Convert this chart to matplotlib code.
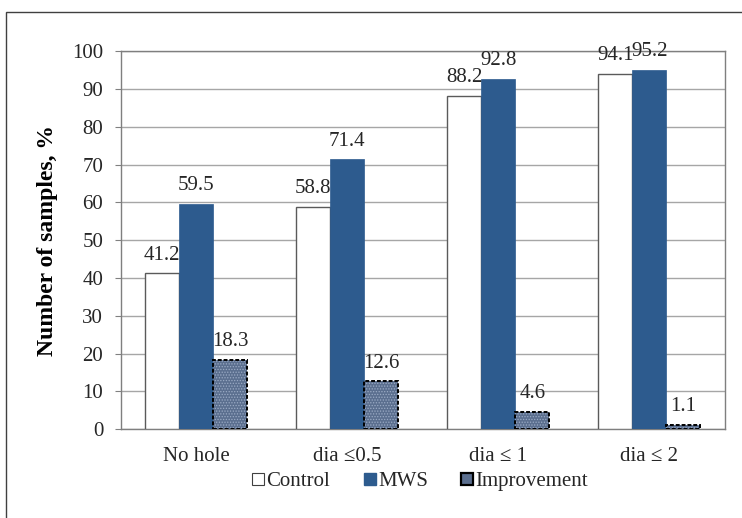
import matplotlib

matplotlib.use("Agg")
import matplotlib.pyplot as plt
from matplotlib.lines import Line2D
from matplotlib.patches import Rectangle
import numpy as np

categories = ["No hole", "dia \u22640.5", "dia \u2264 1", "dia \u2264 2"]
control = [41.2, 58.8, 88.2, 94.1]
mws = [59.5, 71.4, 92.8, 95.2]
improvement = [18.3, 12.6, 4.6, 1.1]
y_ticks = list(range(0, 101, 10))

MWS_BLUE = "#2d5b8e"
IMP_FILL = "#5b6f8f"
IMP_DOTS = "#9aaac4"
TEXT = "#262626"

plt.rcParams["font.family"] = ["Liberation Serif", "DejaVu Serif"]
plt.rcParams["hatch.linewidth"] = 0.6

fig = plt.figure(figsize=(7.42, 5.18), dpi=100)
ax = fig.add_axes([0.1624, 0.1718, 0.8147, 0.7288])

x = np.arange(len(categories))
w = 0.225

ax.bar(x - w, control, w, color="white", edgecolor="#5a5a5a", linewidth=1.0, zorder=3)
ax.bar(x, mws, w, color=MWS_BLUE, edgecolor=MWS_BLUE, linewidth=0.5, zorder=3)
ax.bar(x + w, improvement, w, color=IMP_FILL, edgecolor=IMP_DOTS, hatch="......",
       linewidth=0, zorder=3)
ax.bar(x + w, improvement, w, fill=False, edgecolor="black", linewidth=1.4,
       linestyle=(0, (2, 1)), zorder=4)

for offset, values in ((-w, control), (0, mws), (w, improvement)):
  for xi, v in zip(x, values):
    ax.annotate(f"{v:.1f}", (xi + offset, v), xytext=(0, 10), textcoords="offset points",
                ha="center", va="baseline", fontsize=15, color=TEXT, zorder=5)

ax.set_xlim(-0.5, len(categories) - 0.5)
ax.set_ylim(0, 100)
ax.set_yticks(y_ticks)
ax.set_xticks(x)
ax.set_xticklabels(categories)
ax.tick_params(axis="y", labelsize=15, labelcolor=TEXT, length=4.5, color="#808080", pad=8)
ax.tick_params(axis="x", labelsize=15, labelcolor=TEXT, length=0, pad=13)
ax.yaxis.grid(True, color="#a6a6a6", linewidth=1.0, zorder=0)
ax.set_axisbelow(True)
for spine in ax.spines.values():
  spine.set_color("#7f7f7f")
  spine.set_linewidth(1.0)

ax.set_ylabel("Number of samples, %", fontsize=17, fontweight="bold", labelpad=10,
              color="black")

handles = [
    Line2D([], [], marker="s", linestyle="none", markersize=9,
           markerfacecolor="white", markeredgecolor="#404040", markeredgewidth=0.8),
    Line2D([], [], marker="s", linestyle="none", markersize=9,
           markerfacecolor=MWS_BLUE, markeredgecolor=MWS_BLUE),
    Line2D([], [], marker="s", linestyle="none", markersize=9,
           markerfacecolor=IMP_FILL, markeredgecolor="black", markeredgewidth=1.6),
]
leg = fig.legend(handles, ["Control", "MWS", "Improvement"], loc="center",
                 bbox_to_anchor=(420 / 742, 1 - 481 / 518), ncol=3, frameon=False,
                 fontsize=15, handlelength=0.6, handletextpad=0.1, columnspacing=1.6,
                 borderaxespad=0)
for t in leg.get_texts():
  t.set_color(TEXT)

# outer frame, cropped at the right and bottom edges
fig.patches.append(Rectangle((6 / 742, -0.1), 1.2, 1 - 12 / 518 + 0.1,
                             transform=fig.transFigure, fill=False,
                             edgecolor="#404040", linewidth=1.0))

fig.savefig("out.png", dpi=100)
